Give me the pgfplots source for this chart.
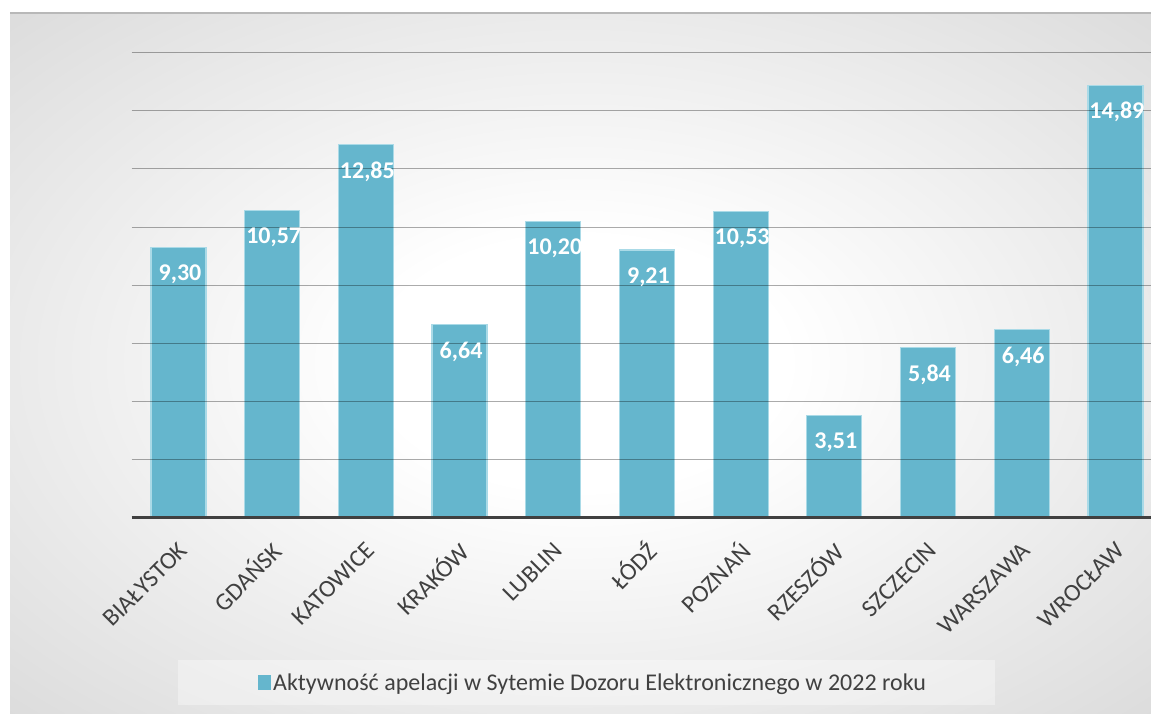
\documentclass[border=0pt]{standalone}
\usepackage{fontspec}
\setmainfont{Carlito}
\usepackage{pgfplots}
\pgfplotsset{compat=1.18}
\definecolor{barc}{RGB}{101,182,205}
\definecolor{barb}{RGB}{170,218,231}
\definecolor{txt}{RGB}{64,64,64}
\pgfdeclareradialshading{bgshade}{\pgfpoint{0bp}{0bp}}{color(0bp)=(white); color(9bp)=(white); color(40bp)=(black!16); color(72bp)=(black!25)}
\begin{document}
\begin{tikzpicture}[x=1pt,y=1pt]
\useasboundingbox (0,0) rectangle (1151,713);
\fill[white] (0,0) rectangle (1151,713);
\shade[shading=bgshade] (10,0) rectangle (1151,700);
\draw[black!28, line width=1.2pt] (10,700) -- (1151,700);
\fill[white, opacity=0.35] (178,8) rectangle (995,53);
\begin{axis}[
  at={(131.65pt,196pt)}, anchor=south west,
  scale only axis, width=1019.35pt, height=464pt,
  xmin=-0.5, xmax=10.38, ymin=0, ymax=16,
  xtick={0,...,10},
  xticklabels={BIAŁYSTOK,GDAŃSK,KATOWICE,KRAKÓW,LUBLIN,ŁÓDŹ,POZNAŃ,RZESZÓW,SZCZECIN,WARSZAWA,WROCŁAW},
  ytick={2,4,...,16}, yticklabels={},
  major tick length=0,
  ymajorgrids, grid style={black, opacity=0.33, line width=1pt},
  axis x line*=bottom, axis y line*=left,
  y axis line style={draw=none},
  x axis line style={-, draw=txt, line width=3pt},
  axis on top,
  clip=false,
  /pgf/number format/assume math mode=true,
  xticklabel style={xshift=7pt, yshift=-27pt, rotate=45, anchor=east, font=\fontsize{24.5}{24.5}\selectfont, text=txt},
  ybar, bar width=55pt,
  nodes near coords={\pgfmathprintnumber[fixed,fixed zerofill,precision=2,use comma]{\pgfplotspointmeta}},
  nodes near coords style={font=\bfseries\fontsize{24}{24}\selectfont, text=white, anchor=center, xshift=1.5pt, yshift=-27pt},
  legend style={at={(0.4526,-0.3578)}, anchor=center, draw=none, fill=none, font=\fontsize{24}{24}\selectfont, text=txt},
]
\addplot[fill=barc, draw=barb, line width=1.2pt,
  legend image code/.code={\fill[barc] (0pt,-6.5pt) rectangle (12pt,7pt);}]
  coordinates {(0,9.30) (1,10.57) (2,12.85) (3,6.64) (4,10.20) (5,9.21) (6,10.53) (7,3.51) (8,5.84) (9,6.46) (10,14.89)};
\addlegendentry{Aktywność apelacji w Sytemie Dozoru Elektronicznego w 2022 roku}
\end{axis}
\end{tikzpicture}
\end{document}
